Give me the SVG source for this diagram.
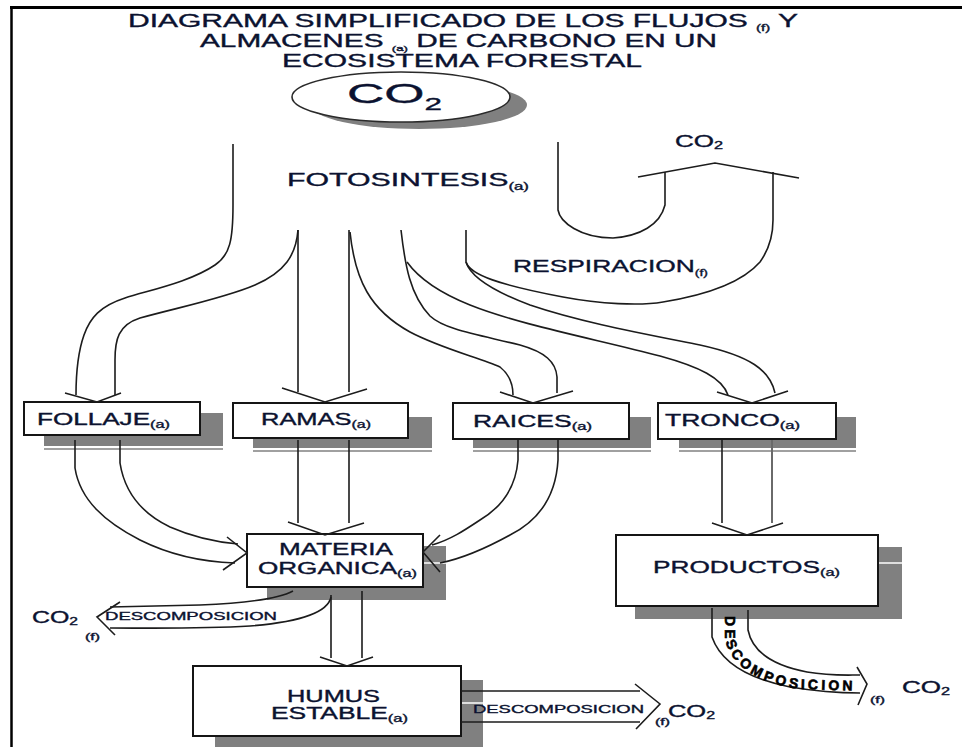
<svg xmlns="http://www.w3.org/2000/svg" xmlns:xlink="http://www.w3.org/1999/xlink" width="962" height="747" viewBox="0 0 962 747">
<defs>
<style>
.ln{fill:none;stroke:#1c1c1c;stroke-width:1.6}
.lg{fill:none;stroke:#6a6a6a;stroke-width:2}
.box{fill:#fff;stroke:#151515;stroke-width:2}
.sh{fill:#808080}
.shl{stroke:#808080;stroke-width:1.6}
.wl{stroke:#fff;stroke-width:1.5}
text{font-family:"Liberation Sans",Arial,sans-serif;fill:#0b1230;stroke:#0b1230;stroke-width:0.35}
</style>
<path id="dp" d="M725,612 V640 C732,665 755,683 800,689 L862,691"/>
</defs>
<rect x="0" y="0" width="962" height="747" fill="#fff"/>
<g id="frame">
<line x1="10" y1="7.5" x2="962" y2="7.5" stroke="#000" stroke-width="3"/>
<line x1="11.5" y1="6" x2="11.5" y2="747" stroke="#000" stroke-width="2.5"/>
</g>
<g id="title">
<text x="128" y="27" font-size="18" textLength="670" lengthAdjust="spacingAndGlyphs">DIAGRAMA SIMPLIFICADO DE LOS FLUJOS <tspan font-size="9" dy="4">(f)</tspan><tspan dy="-4"> Y</tspan></text>
<text x="200" y="47" font-size="18" textLength="517" lengthAdjust="spacingAndGlyphs">ALMACENES <tspan font-size="8" dy="3.5">(a)</tspan><tspan dy="-3.5"> DE CARBONO EN UN</tspan></text>
<text x="282" y="67" font-size="18" textLength="360" lengthAdjust="spacingAndGlyphs">ECOSISTEMA FORESTAL</text>
</g>
<g id="co2-atmosfera">
<ellipse cx="419" cy="105" rx="108" ry="24" class="sh"/>
<ellipse cx="401" cy="97" rx="109" ry="25" fill="#fff" stroke="#2a2a2a" stroke-width="1.6"/>
<text x="347" y="103" font-size="28" textLength="95" lengthAdjust="spacingAndGlyphs">CO<tspan font-size="17" dy="7">2</tspan></text>
</g>
<g id="fotosintesis">
<text x="287" y="186" font-size="18" textLength="242" lengthAdjust="spacingAndGlyphs">FOTOSINTESIS<tspan font-size="10" dy="4">(a)</tspan></text>
</g>
<g id="respiracion">
<text x="513" y="272" font-size="17" textLength="195" lengthAdjust="spacingAndGlyphs">RESPIRACION<tspan font-size="9" dy="4">(f)</tspan></text>
<text x="675" y="147" font-size="16" textLength="48" lengthAdjust="spacingAndGlyphs">CO<tspan font-size="10" dy="2">2</tspan></text>
</g>
<g id="follaje">
<rect x="44" y="413" width="179" height="33" class="sh"/>
<line x1="44" y1="449" x2="223" y2="449" class="shl"/>
<rect x="24" y="402" width="176" height="33" class="box"/>
<text x="37" y="425" font-size="16" textLength="133" lengthAdjust="spacingAndGlyphs">FOLLAJE<tspan font-size="10" dy="3">(a)</tspan></text>
</g>
<g id="ramas">
<rect x="253" y="417" width="179" height="31" class="sh"/>
<line x1="253" y1="451" x2="432" y2="451" class="shl"/>
<rect x="233" y="403" width="175" height="35" class="box"/>
<text x="261" y="425" font-size="16" textLength="110" lengthAdjust="spacingAndGlyphs">RAMAS<tspan font-size="10" dy="3">(a)</tspan></text>
</g>
<g id="raices">
<rect x="473" y="417" width="178" height="31" class="sh"/>
<line x1="473" y1="451" x2="651" y2="451" class="shl"/>
<rect x="453" y="403" width="176" height="36" class="box"/>
<text x="473" y="427" font-size="16" textLength="119" lengthAdjust="spacingAndGlyphs">RAICES<tspan font-size="10" dy="3">(a)</tspan></text>
</g>
<g id="tronco">
<rect x="679" y="417" width="177" height="31" class="sh"/>
<line x1="679" y1="451" x2="856" y2="451" class="shl"/>
<rect x="658" y="403" width="178" height="36" class="box"/>
<text x="665" y="426" font-size="16" textLength="135" lengthAdjust="spacingAndGlyphs">TRONCO<tspan font-size="10" dy="3">(a)</tspan></text>
</g>
<g id="materia-organica">
<rect x="267" y="546" width="179" height="54" class="sh"/>
<line x1="424" y1="563" x2="446" y2="563" class="wl"/>
<rect x="247" y="534" width="176" height="53" class="box"/>
<text x="279" y="555" font-size="16" textLength="114" lengthAdjust="spacingAndGlyphs">MATERIA</text>
<text x="258" y="574" font-size="16" textLength="159" lengthAdjust="spacingAndGlyphs">ORGANICA<tspan font-size="10" dy="3">(a)</tspan></text>
</g>
<g id="humus-estable">
<rect x="215" y="680" width="268" height="70" class="sh"/>
<line x1="462" y1="703" x2="483" y2="703" class="wl"/>
<rect x="193" y="666" width="268" height="70" class="box"/>
<text x="287" y="702" font-size="16" textLength="93" lengthAdjust="spacingAndGlyphs">HUMUS</text>
<text x="271" y="719" font-size="16" textLength="137" lengthAdjust="spacingAndGlyphs">ESTABLE<tspan font-size="10" dy="3">(a)</tspan></text>
</g>
<g id="productos">
<rect x="635" y="547" width="267" height="72" class="sh"/>
<line x1="879" y1="563" x2="902" y2="563" class="wl"/>
<rect x="616" y="535" width="262" height="71" class="box"/>
<text x="653" y="573" font-size="16" textLength="187" lengthAdjust="spacingAndGlyphs">PRODUCTOS<tspan font-size="10" dy="3">(a)</tspan></text>
</g>
<g id="connectors">
<path class="ln" d="M233,144 V205 C233,240 230,255 215,265 C190,282 150,290 125,298 C100,306 90,318 84,335 C78,352 76,370 76,395"/>
<path class="ln" d="M298,230 C296,255 285,272 255,285 C225,298 180,307 140,318 C118,325 115,340 115,360 V395"/>
<path class="ln" d="M65,393 L97,402 L121,393"/>
<path class="ln" d="M298,230 V392 M349,230 V392"/>
<path class="ln" d="M282,388 L325,402 L367,389"/>
<path class="ln" d="M350,232 C355,280 370,310 410,332 C440,348 480,358 500,367 C510,375 513,385 513,395"/>
<path class="ln" d="M401,230 C405,265 410,295 430,316 C445,330 480,335 520,345 C545,352 556,362 557,377 V393"/>
<path class="ln" d="M500,392 L533,403 L573,391"/>
<path class="ln" d="M407,262 C420,280 440,293 470,305 C520,325 600,340 660,356 C700,367 722,378 728,395"/>
<path class="ln" d="M466,230 V262 C470,275 490,290 530,305 C580,322 640,333 700,345 C750,356 770,370 775,393"/>
<path class="ln" d="M717,392 L752,403 L788,391"/>
<path class="ln" d="M466,262 C470,275 500,285 563,297 C600,304 640,306 663,302 C700,296 740,285 760,262 C770,248 773,235 773,220 V172"/>
<path class="ln" d="M558,142 V210 C560,222 580,238 613,238 C640,236 660,225 665,205 V172"/>
<path class="ln" d="M638,177 L715,163 L799,178"/>
<path class="ln" d="M75,440 V468 C80,500 105,522 140,540 C170,555 205,562 235,563"/>
<path class="ln" d="M120,440 V463 C125,495 145,515 170,527 C195,538 215,542 238,544"/>
<path class="ln" d="M227,537 L247,553 L223,570"/>
<path class="ln" d="M298,440 V523 M349,440 V523"/>
<path class="ln" d="M288,522 L325,535 L364,523"/>
<path class="ln" d="M518,440 V460 C516,485 505,505 480,520 C465,530 450,540 432,545"/>
<path class="ln" d="M558,440 V460 C556,495 540,520 510,535 C490,546 465,558 440,563"/>
<path class="ln" d="M440,535 L423,552 L440,572"/>
<path class="ln" d="M331,595 V658 M362,591 V658"/>
<path class="ln" d="M320,657 L347,666 L373,657"/>
<path class="ln" d="M293,591 C280,598 250,603 200,605 L110,607"/>
<path class="ln" d="M331,597 C328,612 300,622 250,626 C200,629 150,628 110,628"/>
<path class="ln" d="M120,602 L97,617 L115,635"/>
<path class="ln" d="M461,691 H640 M461,722 H640"/>
<path class="ln" d="M635,684 L660,704 L636,729"/>
<path class="ln" d="M722,440 V523"/>
<path class="lg" d="M772,440 V523"/>
<path class="ln" d="M712,523 L747,535 L783,523"/>
<path class="ln" d="M712,608 V637 C720,660 745,678 790,687 C820,692 840,693 860,693"/>
<path class="ln" d="M748,610 V630 C752,650 770,665 807,672 C830,676 845,675 860,675"/>
<path class="ln" d="M857,667 L867,684 L858,705"/>
</g>
<g id="descomposicion-labels">
<text x="105" y="620" font-size="11" textLength="172" lengthAdjust="spacingAndGlyphs">DESCOMPOSICION</text>
<text x="473" y="713" font-size="11" textLength="171" lengthAdjust="spacingAndGlyphs">DESCOMPOSICION</text>
<text font-size="14" font-weight="bold" letter-spacing="3.2" style="fill:#000;stroke:#000;stroke-width:0.6"><textPath xlink:href="#dp" startOffset="4">DESCOMPOSICION</textPath></text>
</g>
<g id="co2-salidas">
<text x="32" y="623" font-size="16" textLength="46" lengthAdjust="spacingAndGlyphs">CO<tspan font-size="10" dy="2">2</tspan></text>
<text x="85" y="640" font-size="9" textLength="15" lengthAdjust="spacingAndGlyphs">(f)</text>
<text x="655" y="725" font-size="9" textLength="15" lengthAdjust="spacingAndGlyphs">(f)</text>
<text x="668" y="717" font-size="16" textLength="47" lengthAdjust="spacingAndGlyphs">CO<tspan font-size="10" dy="2">2</tspan></text>
<text x="870" y="703" font-size="9" textLength="15" lengthAdjust="spacingAndGlyphs">(f)</text>
<text x="902" y="693" font-size="16" textLength="48" lengthAdjust="spacingAndGlyphs">CO<tspan font-size="10" dy="2">2</tspan></text>
</g>
</svg>
